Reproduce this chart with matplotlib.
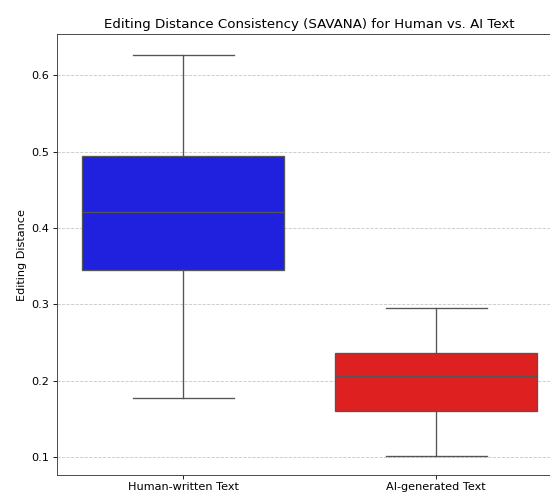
#!/usr/bin/env python3
"""
Boxplot of editing distance consistency (SAVANA) for human vs. AI text.
"""

import matplotlib
matplotlib.use('Agg')
import matplotlib.pyplot as plt

plt.rcParams['font.size'] = 10.5

categorias = ['Human-written Text', 'AI-generated Text']
colores = ['#2020df', '#df2020']

# Five-number summaries per group
bigote_inf = [0.177, 0.102]
q1 = [0.345, 0.160]
mediana = [0.421, 0.206]
q3 = [0.494, 0.236]
bigote_sup = [0.627, 0.296]

fig = plt.figure(figsize=(550 / 77, 498 / 77), dpi=77)
ax = fig.add_axes([0.1036, 0.0462, 0.919, 0.8855])

stats = []
for i, nombre in enumerate(categorias):
    stats.append({
        'label': nombre,
        'whislo': bigote_inf[i], 'q1': q1[i], 'med': mediana[i],
        'q3': q3[i], 'whishi': bigote_sup[i], 'fliers': [],
    })

gris = '#555555'
bp = ax.bxp(stats, positions=range(len(categorias)), widths=0.8,
            capwidths=0.4, patch_artist=True, showfliers=False,
            boxprops=dict(edgecolor=gris, linewidth=1.25),
            medianprops=dict(color=gris, linewidth=1.25),
            whiskerprops=dict(color=gris, linewidth=1.25),
            capprops=dict(color=gris, linewidth=1.25))
for caja, c in zip(bp['boxes'], colores):
    caja.set_facecolor(c)

ax.set_xlim(-0.5, 1.5)
ax.set_ylim(0.0768, 0.654)
ax.set_yticks([0.1, 0.2, 0.3, 0.4, 0.5, 0.6])
ax.set_xticks(range(len(categorias)))
ax.set_xticklabels(categorias)
ax.yaxis.grid(True, linestyle='--', color='#b0b0b0', alpha=0.7)
ax.set_axisbelow(True)
for s in ax.spines.values():
    s.set_color('#333333')

ax.set_ylabel('Editing Distance')
ax.set_title('Editing Distance Consistency (SAVANA) for Human vs. AI Text', fontsize=12.5)

fig.savefig('out.png', dpi=77)
